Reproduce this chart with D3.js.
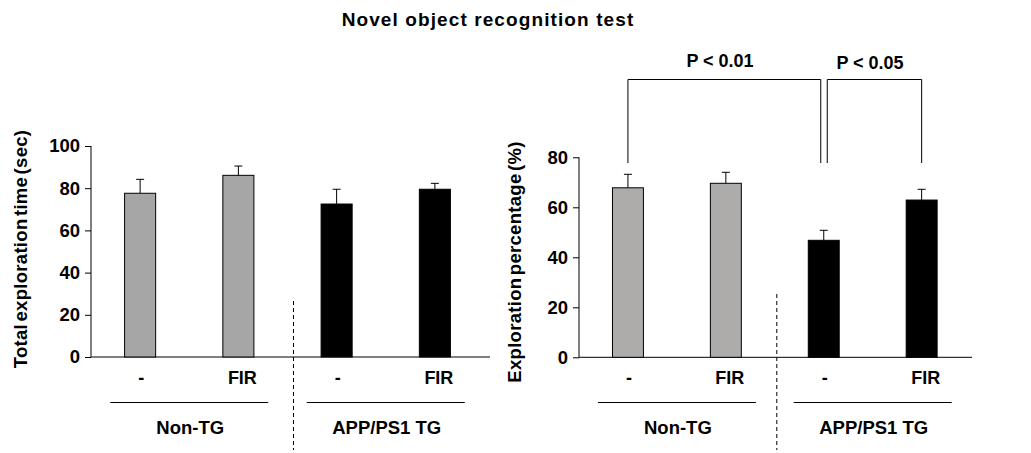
<!DOCTYPE html>
<html><head><meta charset="utf-8">
<script src="https://cdn.jsdelivr.net/npm/d3@7"></script>
<style>body{margin:0;background:#fff}text{font-family:"Liberation Sans",Arial,sans-serif;font-weight:bold}</style>
</head><body><svg id="c" width="1031" height="453"></svg>
<script>
const categories = ["-", "FIR", "-", "FIR"];
const groups = ["Non-TG", "APP/PS1 TG"];
const timeValues = [77.6, 86.1, 72.5, 79.5];
const timeErrors = [6.6, 4.4, 7.0, 2.8];
const pctValues = [67.8, 69.6, 46.8, 62.9];
const pctErrors = [5.4, 4.4, 4.0, 4.3];
const timeTicks = [0, 20, 40, 60, 80, 100];
const pctTicks = [0, 20, 40, 60, 80];
const barColors = ["#a6a6a6", "#a6a6a6", "#000000", "#000000"];
const barColors2 = ["#aeabab", "#aeabab", "#000000", "#000000"];

const svg = d3.select("#c");
svg.append("text").attr("x", 488).attr("y", 26).attr("text-anchor", "middle")
  .attr("font-size", 19).attr("letter-spacing", 1.1).text("Novel object recognition test");

function panel(o) {
  const g = svg.append("g");
  const x = d3.scaleBand().domain(d3.range(4)).range([o.x0, o.x1]).paddingInner(0.684).paddingOuter(0.342);
  const y = d3.scaleLinear().domain([0, o.max]).range([o.yb, o.yt]);
  const ax = g.append("g").attr("transform", `translate(${o.x0},0)`)
    .call(d3.axisLeft(y).tickValues(o.ticks).tickSize(6).tickSizeOuter(0));
  ax.select(".domain").attr("stroke", "#000").attr("d", `M0,${o.yt}V${o.yb}`);
  ax.selectAll(".tick line").attr("stroke", "#000");
  ax.selectAll(".tick text").attr("font-size", 18.5).attr("font-family", "Liberation Sans, Arial, sans-serif")
    .attr("font-weight", "bold").attr("fill", "#000").attr("x", -11);
  g.append("line").attr("x1", o.x0).attr("x2", o.axisEnd).attr("y1", o.yb).attr("y2", o.yb).attr("stroke", "#000");
  const bw = x.bandwidth();
  // error bars
  o.vals.forEach((v, i) => {
    const cx = x(i) + bw / 2;
    g.append("line").attr("x1", cx).attr("x2", cx).attr("y1", y(v)).attr("y2", y(v + o.errs[i])).attr("stroke", "#000");
    g.append("line").attr("x1", cx - 4).attr("x2", cx + 4).attr("y1", y(v + o.errs[i])).attr("y2", y(v + o.errs[i])).attr("stroke", "#000");
  });
  g.selectAll("rect.bar").data(o.vals).join("rect")
    .attr("x", (d, i) => x(i)).attr("width", bw)
    .attr("y", d => y(d)).attr("height", d => y(0) - y(d))
    .attr("fill", (d, i) => o.colors[i]).attr("stroke", "#000").attr("stroke-width", 1);
  // category labels
  categories.forEach((c, i) => {
    g.append("text").attr("x", x(i) + bw / 2 + (c === "FIR" ? 4 : 1)).attr("y", 384).attr("text-anchor", "middle")
      .attr("font-size", 18).text(c);
  });
  // group lines
  groups.forEach((gname, k) => {
    const a = x(2 * k) + bw / 2, b = x(2 * k + 1) + bw / 2;
    const mid = (a + b) / 2;
    g.append("line").attr("x1", mid - 79).attr("x2", mid + 79).attr("y1", 402.5).attr("y2", 402.5).attr("stroke", "#000");
    g.append("text").attr("x", mid + 1).attr("y", 434).attr("text-anchor", "middle").attr("font-size", 18.5).text(gname);
  });
  // dashed separator
  const sep = (x(1) + x(2) + bw) / 2 + o.sepOff;
  g.append("line").attr("x1", sep).attr("x2", sep).attr("y1", o.sepTop).attr("y2", 450)
    .attr("stroke", "#000").attr("stroke-dasharray", "4,3");
  // axis title
  g.append("text").attr("transform", `translate(${o.tx},${o.ty}) rotate(-90)`).attr("text-anchor", "middle")
    .attr("font-size", 18.5).attr("letter-spacing", 0.3).attr("word-spacing", -3).text(o.title);
  return { x, y, bw, g };
}

panel({ x0: 91, x1: 484, axisEnd: 490, yb: 357, yt: 146, max: 100, ticks: timeTicks, vals: timeValues, errs: timeErrors,
  colors: barColors, sepOff: 6, sepTop: 301, tx: 27, ty: 249, title: "Total exploration time (sec)" });
const p = panel({ x0: 579, x1: 970.6, axisEnd: 972, yb: 357.3, yt: 157.3, max: 80, ticks: pctTicks, vals: pctValues, errs: pctErrors,
  colors: barColors2, sepOff: 2, sepTop: 294, tx: 521, ty: 262, title: "Exploration percentage (%)" });

// significance brackets
const cx = i => p.x(i) + p.bw / 2;
const by = 79.5, legY = 163;
p.g.append("path").attr("fill", "none").attr("stroke", "#000")
  .attr("d", `M${cx(0)},${legY}V${by}H${cx(2) - 3}V${legY}`);
p.g.append("path").attr("fill", "none").attr("stroke", "#000")
  .attr("d", `M${cx(2) + 3.5},${legY}V${by}H${cx(3)}V${legY}`);
p.g.append("text").attr("x", 720).attr("y", 67).attr("text-anchor", "middle").attr("font-size", 18).text("P < 0.01");
p.g.append("text").attr("x", 870).attr("y", 68.5).attr("text-anchor", "middle").attr("font-size", 18).text("P < 0.05");
</script></body></html>
